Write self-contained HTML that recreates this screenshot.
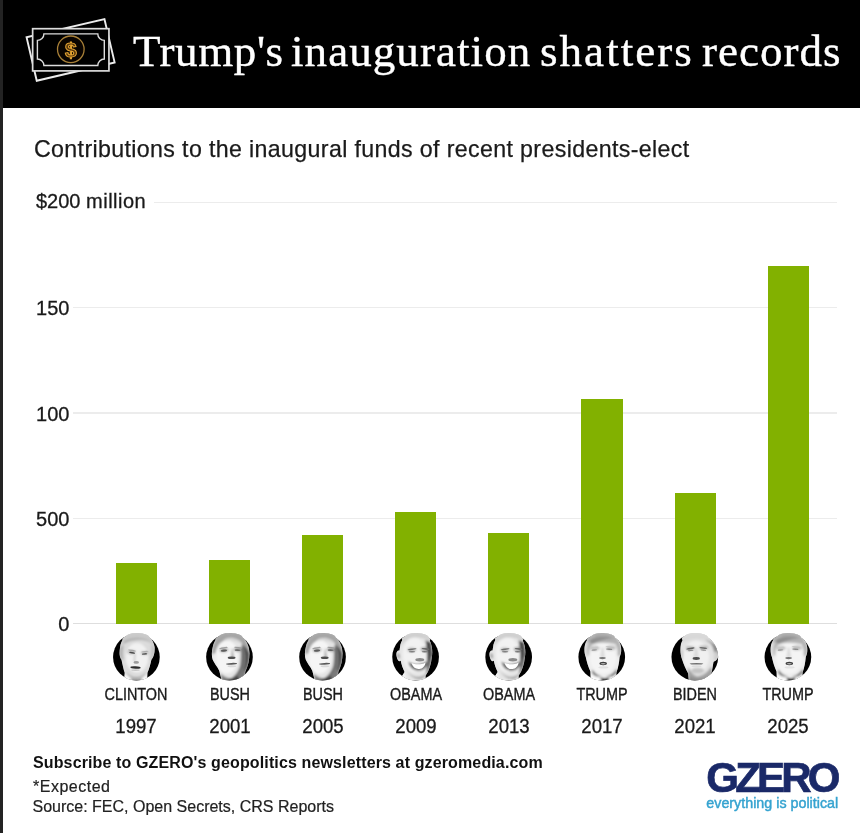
<!DOCTYPE html>
<html lang="en">
<head>
<meta charset="utf-8">
<title>Trump's inauguration shatters records</title>
<style>
html,body{margin:0;padding:0;}
body{width:860px;height:833px;position:relative;overflow:hidden;background:#fff;font-family:"Liberation Sans",sans-serif;color:#1a1a1a;}
.abs{position:absolute;white-space:nowrap;}
#strip{left:0;top:0;width:3px;height:833px;background:#232323;}
#header{left:3px;top:0;width:857px;height:108px;background:#000;}
#title{left:133px;top:23px;font-family:"Liberation Serif",serif;font-size:45px;line-height:56px;color:#fff;-webkit-text-stroke:0.4px #fff;}
#title span{position:absolute;top:0;}
#subtitle{left:34px;top:135.2px;font-size:23.2px;line-height:28px;color:#1a1a1a;letter-spacing:0.36px;-webkit-text-stroke:0.25px #1a1a1a;}
.grid{left:73px;width:764px;height:1.5px;background:#ececec;}
.ylab{-webkit-text-stroke:0.3px #1a1a1a;left:36px;min-width:33.4px;text-align:right;font-size:20px;line-height:24px;color:#1a1a1a;background:#fff;padding-right:4px;}
.bar{background:#82b100;width:41.2px;}
.name{font-size:16.3px;line-height:20px;text-align:center;width:100px;color:#1a1a1a;transform:scaleX(0.885);-webkit-text-stroke:0.35px #1a1a1a;transform-origin:50% 50%;}
.year{-webkit-text-stroke:0.3px #1a1a1a;font-size:20px;line-height:24px;text-align:center;width:100px;color:#1a1a1a;transform:scaleX(0.93);transform-origin:50% 50%;}
.face{width:48px;height:48px;}
#sub2{left:33px;top:753.2px;font-size:16px;line-height:20px;font-weight:bold;color:#111;letter-spacing:0.13px;}
#exp{-webkit-text-stroke:0.2px #222;left:33px;top:777.2px;font-size:16px;line-height:20px;color:#222;letter-spacing:0.5px;}
#src{-webkit-text-stroke:0.2px #222;left:32.5px;top:797px;font-size:16px;line-height:20px;color:#222;}
#logo{left:706.3px;top:758px;font-size:42px;line-height:40px;font-weight:bold;color:#1a2968;letter-spacing:-3.8px;-webkit-text-stroke:0.7px #1a2968;}
#tag{left:706.3px;top:795.2px;font-size:14.3px;line-height:16px;color:#35a3d0;-webkit-text-stroke:0.45px #35a3d0;}
</style>
</head>
<body>
<div class="abs" id="strip"></div>
<div class="abs" id="header"></div>
<div class="abs" id="title"><span style="left:0;letter-spacing:0.6px">Trump's</span> <span style="left:158px;letter-spacing:1.07px">inauguration</span> <span style="left:407px;letter-spacing:2.05px">shatters</span> <span style="left:569px;letter-spacing:1px">records</span></div>
<svg class="abs" id="money" width="140" height="107" viewBox="0 0 140 107" style="left:0;top:0;">
<rect x="-40" y="-22.3" width="80" height="44.6" transform="translate(70.6 49.9) rotate(-13.2)" fill="#000" stroke="#ececec" stroke-width="1.9"/>
<rect x="32.65" y="28.7" width="76.3" height="42.2" fill="#000" stroke="#dcdcdc" stroke-width="1.7"/>
<path d="M43.9 33.9H97.8A6.5 6.5 0 0 0 104.3 40.4V59.0A6.5 6.5 0 0 0 97.8 65.5H43.9A6.5 6.5 0 0 0 37.4 59.0V40.4A6.5 6.5 0 0 0 43.9 33.9Z" fill="none" stroke="#dcdcdc" stroke-width="1.4"/>
<circle cx="70.8" cy="49.3" r="13.3" fill="#0a0400" stroke="#a98138" stroke-width="1.3"/>
<text x="70.8" y="56.6" text-anchor="middle" font-family="Liberation Sans, sans-serif" font-weight="bold" font-size="21" fill="#5a380c" stroke="#e6a634" stroke-width="1">$</text>
</svg>
<div class="abs" id="subtitle">Contributions to the inaugural funds of recent presidents-elect</div>

<div class="abs grid" style="top:201.5px;"></div>
<div class="abs grid" style="top:306.8px;"></div>
<div class="abs grid" style="top:412.2px;"></div>
<div class="abs grid" style="top:517.5px;"></div>
<div class="abs grid" style="top:622.8px;background:#dedede;"></div>

<div class="abs ylab" style="top:189px;padding-right:8px;">$200 <span style="letter-spacing:0.5px">million</span></div>
<div class="abs ylab" style="top:295.8px;">150</div>
<div class="abs ylab" style="top:401.6px;">100</div>
<div class="abs ylab" style="top:506.8px;">500</div>
<div class="abs ylab" style="top:612.4px;">0</div>

<div class="abs bar" style="left:115.9px;top:563.0px;height:60.6px;"></div>
<div class="abs bar" style="left:209.0px;top:560.4px;height:63.2px;"></div>
<div class="abs bar" style="left:302.1px;top:534.8px;height:88.8px;"></div>
<div class="abs bar" style="left:395.2px;top:511.8px;height:111.8px;"></div>
<div class="abs bar" style="left:488.3px;top:532.7px;height:90.9px;"></div>
<div class="abs bar" style="left:581.4px;top:398.9px;height:224.7px;"></div>
<div class="abs bar" style="left:674.5px;top:493.0px;height:130.6px;"></div>
<div class="abs bar" style="left:767.6px;top:265.5px;height:358.1px;"></div>

<div class="abs name" style="left:86.4px;top:684px;">CLINTON</div>
<div class="abs name" style="left:179.5px;top:684px;">BUSH</div>
<div class="abs name" style="left:272.6px;top:684px;">BUSH</div>
<div class="abs name" style="left:365.7px;top:684px;">OBAMA</div>
<div class="abs name" style="left:458.8px;top:684px;">OBAMA</div>
<div class="abs name" style="left:551.9px;top:684px;">TRUMP</div>
<div class="abs name" style="left:645.0px;top:684px;">BIDEN</div>
<div class="abs name" style="left:738.1px;top:684px;">TRUMP</div>

<div class="abs year" style="left:86.4px;top:713.9px;">1997</div>
<div class="abs year" style="left:179.5px;top:713.9px;">2001</div>
<div class="abs year" style="left:272.6px;top:713.9px;">2005</div>
<div class="abs year" style="left:365.7px;top:713.9px;">2009</div>
<div class="abs year" style="left:458.8px;top:713.9px;">2013</div>
<div class="abs year" style="left:551.9px;top:713.9px;">2017</div>
<div class="abs year" style="left:645.0px;top:713.9px;">2021</div>
<div class="abs year" style="left:738.1px;top:713.9px;">2025</div>

<!--FACES-->
<svg width="0" height="0" style="position:absolute"><defs>
<filter id="fb" x="-10%" y="-10%" width="120%" height="120%"><feGaussianBlur stdDeviation="14"/></filter>
<clipPath id="fc"><circle cx="422" cy="432" r="324"/><ellipse cx="435" cy="165" rx="170" ry="68"/></clipPath>
<clipPath id="hc-clinton"><ellipse cx="432" cy="150" rx="215" ry="110"/><path d="M430 90C300 90 210 170 195 300C185 360 180 420 215 470C230 540 245 610 260 650L250 780H570L575 650C600 600 620 520 630 470C670 420 680 350 675 290C650 160 560 90 430 90Z"/></clipPath><g id="f-clinton"><circle cx="422" cy="432" r="324" fill="#000"/><g clip-path="url(#fc)"><ellipse cx="432" cy="150" rx="215" ry="110" fill="#cdcdcd"/><path d="M430 90C300 90 210 170 195 300C185 360 180 420 215 470C230 540 245 610 260 650L250 780H570L575 650C600 600 620 520 630 470C670 420 680 350 675 290C650 160 560 90 430 90Z" fill="#dcdcdc"/><g clip-path="url(#hc-clinton)"><g filter="url(#fb)"><ellipse cx="432" cy="150" rx="215" ry="110" fill="#cdcdcd"/><path d="M430 90C300 90 210 170 195 300C185 360 180 420 215 470C230 540 245 610 260 650L250 780H570L575 650C600 600 620 520 630 470C670 420 680 350 675 290C650 160 560 90 430 90Z" fill="#dcdcdc"/><path d="M430 90C300 90 210 170 195 300C230 230 330 190 440 195C540 195 630 230 675 290C650 160 560 90 430 90Z" fill="#c9c9c9"/><ellipse cx="430" cy="440" rx="155" ry="205" fill="#f1f1f1"/><path d="M300 340C330 320 390 330 415 355C395 400 330 405 300 380Z" fill="#bdbdbd"/><path d="M480 360C510 340 570 345 600 365C590 410 530 415 490 395Z" fill="#c4c4c4"/><path d="M250 210C330 150 520 140 620 220C520 180 350 185 250 250Z" fill="#b2b2b2"/><path d="M195 300C185 360 180 420 215 470L245 470C230 400 235 330 250 260Z" fill="#b4b4b4"/><path d="M675 290C680 350 670 420 630 470L610 470C630 400 630 330 620 260Z" fill="#c4c4c4"/><path d="M260 650L250 780H350L330 720C300 700 275 680 260 650Z" fill="#fafafa"/><path d="M575 650L570 780H480L510 720C540 700 560 680 575 650Z" fill="#fafafa"/><path d="M350 735C400 760 450 760 500 735L470 790H380Z" fill="#1a1a1a"/><path d="M275 640C310 700 370 735 425 740C480 735 530 700 565 640C520 690 470 712 425 712C370 712 320 690 275 640Z" fill="#9a9a9a"/><path d="M395 390C385 440 380 480 392 505L410 500C402 470 405 430 415 390Z" fill="#c4c4c4"/></g></g><ellipse cx="362" cy="372" rx="42" ry="11" fill="#4a4a4a" transform="rotate(8 362 372)"/><ellipse cx="535" cy="388" rx="38" ry="11" fill="#5a5a5a" transform="rotate(-4 535 388)"/><ellipse cx="360" cy="340" rx="55" ry="9" fill="#a8a8a8" transform="rotate(10 360 340)"/><ellipse cx="540" cy="355" rx="50" ry="9" fill="#b0b0b0" transform="rotate(-6 540 355)"/><ellipse cx="420" cy="505" rx="38" ry="20" fill="#9c9c9c"/><ellipse cx="410" cy="575" rx="72" ry="17" fill="#2e2e2e" transform="rotate(3 410 575)"/><ellipse cx="410" cy="612" rx="60" ry="12" fill="#c8c8c8"/></g></g>
<clipPath id="hc-bush"><ellipse cx="440" cy="160" rx="220" ry="110"/><path d="M440 100C320 100 215 160 190 290C175 350 170 420 190 470C210 520 250 560 280 620L320 780H640L640 640C680 560 700 470 700 380C700 230 600 100 440 100Z"/></clipPath><g id="f-bush"><circle cx="422" cy="432" r="324" fill="#000"/><g clip-path="url(#fc)"><ellipse cx="440" cy="160" rx="220" ry="110" fill="#a8a8a8"/><path d="M440 100C320 100 215 160 190 290C175 350 170 420 190 470C210 520 250 560 280 620L320 780H640L640 640C680 560 700 470 700 380C700 230 600 100 440 100Z" fill="#e4e4e4"/><g clip-path="url(#hc-bush)"><g filter="url(#fb)"><ellipse cx="440" cy="160" rx="220" ry="110" fill="#a8a8a8"/><path d="M440 100C320 100 215 160 190 290C175 350 170 420 190 470C210 520 250 560 280 620L320 780H640L640 640C680 560 700 470 700 380C700 230 600 100 440 100Z" fill="#e4e4e4"/><path d="M440 100C320 100 215 160 190 290C180 340 176 380 182 420L235 400C235 330 270 250 330 215C420 175 520 190 600 250C650 290 680 340 700 380C700 230 600 100 440 100Z" fill="#a4a4a4"/><path d="M330 215C420 175 520 190 600 250C560 160 380 130 330 215Z" fill="#d6d6d6"/><ellipse cx="385" cy="430" rx="160" ry="230" fill="#f5f5f5"/><path d="M285 320C320 295 390 300 415 325C395 370 320 375 285 355Z" fill="#b4b4b4"/><path d="M480 315C515 292 585 295 605 315C595 360 535 365 490 345Z" fill="#9c9c9c"/><path d="M600 250C570 330 590 420 575 520C565 600 520 680 440 730L640 780V640C680 560 700 470 700 380C680 340 650 290 600 250Z" fill="#6e6e6e"/><path d="M630 280C705 330 705 530 630 660C665 520 665 400 630 280Z" fill="#3e3e3e"/><path d="M300 660C350 715 420 735 470 725C540 700 575 640 590 580L640 640V780H320Z" fill="#7a7a7a"/><path d="M400 745C440 720 500 715 540 690L560 790H400Z" fill="#3c3c3c"/><ellipse cx="212" cy="440" rx="32" ry="60" fill="#ececec"/><path d="M455 300C475 350 480 400 490 440L440 445C450 400 448 350 455 300Z" fill="#b0b0b0"/></g></g><ellipse cx="345" cy="342" rx="45" ry="15" fill="#5c5c5c" transform="rotate(-6 345 342)"/><ellipse cx="535" cy="335" rx="42" ry="13" fill="#6a6a6a" transform="rotate(4 535 335)"/><ellipse cx="340" cy="305" rx="60" ry="10" fill="#a2a2a2" transform="rotate(-10 340 305)"/><ellipse cx="540" cy="300" rx="55" ry="10" fill="#9a9a9a" transform="rotate(8 540 300)"/><ellipse cx="452" cy="442" rx="55" ry="17" fill="#4e4e4e"/><ellipse cx="450" cy="525" rx="78" ry="13" fill="#5a5a5a" transform="rotate(-2 450 525)"/><ellipse cx="455" cy="560" rx="60" ry="14" fill="#d8d8d8"/></g></g>
<clipPath id="hc-obama"><ellipse cx="430" cy="160" rx="200" ry="115"/><path d="M430 95C310 95 215 170 205 300C200 320 200 330 200 340C160 330 145 380 160 430C170 480 195 500 215 480C225 540 245 590 270 640L230 700L300 780H560L560 690C610 620 640 520 645 440C660 380 655 300 630 230C600 150 530 95 430 95Z"/></clipPath><g id="f-obama"><circle cx="422" cy="432" r="324" fill="#000"/><g clip-path="url(#fc)"><ellipse cx="430" cy="160" rx="200" ry="115" fill="#d2d2d2"/><path d="M430 95C310 95 215 170 205 300C200 320 200 330 200 340C160 330 145 380 160 430C170 480 195 500 215 480C225 540 245 590 270 640L230 700L300 780H560L560 690C610 620 640 520 645 440C660 380 655 300 630 230C600 150 530 95 430 95Z" fill="#e6e6e6"/><g clip-path="url(#hc-obama)"><g filter="url(#fb)"><ellipse cx="430" cy="160" rx="200" ry="115" fill="#d2d2d2"/><path d="M430 95C310 95 215 170 205 300C200 320 200 330 200 340C160 330 145 380 160 430C170 480 195 500 215 480C225 540 245 590 270 640L230 700L300 780H560L560 690C610 620 640 520 645 440C660 380 655 300 630 230C600 150 530 95 430 95Z" fill="#e6e6e6"/><path d="M430 95C310 95 215 170 205 300C260 200 340 160 440 160C520 160 590 190 630 230C600 150 530 95 430 95Z" fill="#cfcfcf"/><ellipse cx="405" cy="400" rx="160" ry="240" fill="#f2f2f2"/><path d="M310 310C340 290 410 295 440 320C420 370 340 375 310 350Z" fill="#c0c0c0"/><path d="M490 305C530 285 600 290 620 310C610 360 550 370 500 345Z" fill="#a8a8a8"/><path d="M630 230C655 300 660 380 645 440C640 520 610 620 560 690C590 560 590 380 560 200Z" fill="#6a6a6a"/><path d="M560 200C590 300 590 420 580 480L610 480C640 400 640 300 630 230Z" fill="#4a4a4a"/><ellipse cx="186" cy="415" rx="14" ry="40" fill="#8a8a8a" transform="rotate(-8 186 415)"/><ellipse cx="670" cy="400" rx="18" ry="50" fill="#7a7a7a"/><path d="M330 500C380 540 540 540 590 480C600 560 540 620 460 622C390 622 330 570 320 490Z" fill="#6f6f6f"/><path d="M300 620C350 700 420 740 480 742C530 735 560 700 580 650C540 690 500 705 460 705C400 705 340 670 300 620Z" fill="#aaaaaa"/><path d="M230 640L270 640L300 780H215Z" fill="#f4f4f4"/></g></g><ellipse cx="372" cy="322" rx="62" ry="11" fill="#6e6e6e" transform="rotate(-8 372 322)"/><ellipse cx="560" cy="318" rx="55" ry="11" fill="#6a6a6a" transform="rotate(8 560 318)"/><ellipse cx="372" cy="358" rx="45" ry="11" fill="#7c7c7c"/><ellipse cx="548" cy="358" rx="42" ry="11" fill="#777"/><ellipse cx="480" cy="468" rx="62" ry="24" fill="#8a8a8a"/><path d="M365 515C420 540 500 540 560 505C550 575 500 598 460 598C415 598 380 570 365 515Z" fill="#ffffff"/></g></g>
<clipPath id="hc-trump"><ellipse cx="432" cy="150" rx="225" ry="110"/><path d="M430 90C330 90 240 140 200 230C175 290 175 370 200 430C215 500 235 570 265 630L270 780H620L625 650C650 580 665 500 670 430C700 370 700 290 670 230C630 140 540 90 430 90Z"/></clipPath><g id="f-trump"><circle cx="422" cy="432" r="324" fill="#000"/><g clip-path="url(#fc)"><ellipse cx="432" cy="150" rx="225" ry="110" fill="#a6a6a6"/><path d="M430 90C330 90 240 140 200 230C175 290 175 370 200 430C215 500 235 570 265 630L270 780H620L625 650C650 580 665 500 670 430C700 370 700 290 670 230C630 140 540 90 430 90Z" fill="#ededed"/><g clip-path="url(#hc-trump)"><g filter="url(#fb)"><ellipse cx="432" cy="150" rx="225" ry="110" fill="#a6a6a6"/><path d="M430 90C330 90 240 140 200 230C175 290 175 370 200 430C215 500 235 570 265 630L270 780H620L625 650C650 580 665 500 670 430C700 370 700 290 670 230C630 140 540 90 430 90Z" fill="#ededed"/><path d="M430 90C330 90 240 140 200 230C175 290 175 370 200 430L250 400C240 340 260 280 300 250C380 230 500 225 610 250C640 290 650 350 640 400L670 430C700 370 700 290 670 230C630 140 540 90 430 90Z" fill="#b2b2b2"/><path d="M250 200C330 140 470 130 590 170C500 175 400 190 300 250C280 240 260 225 250 200Z" fill="#8e8e8e"/><path d="M330 120C420 100 540 120 620 190C540 150 430 140 330 160Z" fill="#a8a8a8"/><ellipse cx="440" cy="450" rx="180" ry="215" fill="#f4f4f4"/><path d="M270 290C300 270 370 275 400 300C380 350 300 360 270 330Z" fill="#c4c4c4"/><path d="M480 290C520 265 590 270 620 290C615 340 540 350 490 330Z" fill="#c0c0c0"/><path d="M200 230C175 290 175 370 200 430L235 410C215 350 220 280 245 230Z" fill="#dadada"/><path d="M420 300C415 350 405 400 400 440L470 440C462 400 452 350 450 300Z" fill="#dcdcdc"/><path d="M290 600C330 670 390 700 450 702C520 700 580 670 630 590L625 700H290Z" fill="#6f6f6f"/><path d="M265 640L270 780H420L400 730C350 710 300 680 265 640Z" fill="#fbfbfb"/><path d="M625 650L620 780H520L530 730C570 710 600 685 625 650Z" fill="#fbfbfb"/><path d="M405 715C440 730 480 730 525 715L510 790H420Z" fill="#161616"/></g></g><ellipse cx="320" cy="332" rx="40" ry="10" fill="#9a9a9a" transform="rotate(-5 320 332)"/><ellipse cx="525" cy="322" rx="45" ry="10" fill="#8a8a8a" transform="rotate(4 525 322)"/><ellipse cx="320" cy="300" rx="55" ry="9" fill="#c8c8c8" transform="rotate(-8 320 300)"/><ellipse cx="530" cy="292" rx="55" ry="9" fill="#c0c0c0" transform="rotate(6 530 292)"/><ellipse cx="432" cy="445" rx="45" ry="15" fill="#767676"/><ellipse cx="442" cy="520" rx="52" ry="24" fill="#3e3e3e"/><ellipse cx="442" cy="524" rx="34" ry="9" fill="#b0b0b0"/><ellipse cx="445" cy="575" rx="70" ry="16" fill="#e2e2e2"/></g></g>
<clipPath id="hc-biden"><ellipse cx="455" cy="160" rx="215" ry="110"/><path d="M450 100C350 100 260 150 230 250C215 320 220 400 245 460C265 530 300 600 330 660L340 780H650L652 650C668 600 672 545 682 495C722 485 750 440 756 385C760 345 756 312 745 290C715 170 600 100 450 100Z"/></clipPath><g id="f-biden"><circle cx="422" cy="432" r="324" fill="#000"/><g clip-path="url(#fc)"><ellipse cx="455" cy="160" rx="215" ry="110" fill="#dadada"/><path d="M450 100C350 100 260 150 230 250C215 320 220 400 245 460C265 530 300 600 330 660L340 780H650L652 650C668 600 672 545 682 495C722 485 750 440 756 385C760 345 756 312 745 290C715 170 600 100 450 100Z" fill="#e2e2e2"/><g clip-path="url(#hc-biden)"><g filter="url(#fb)"><ellipse cx="455" cy="160" rx="215" ry="110" fill="#dadada"/><path d="M450 100C350 100 260 150 230 250C215 320 220 400 245 460C265 530 300 600 330 660L340 780H650L652 650C668 600 672 545 682 495C722 485 750 440 756 385C760 345 756 312 745 290C715 170 600 100 450 100Z" fill="#e2e2e2"/><path d="M450 100C350 100 260 150 230 250C280 200 360 180 450 180C560 180 660 210 745 290C715 170 600 100 450 100Z" fill="#d8d8d8"/><path d="M560 190C640 210 700 250 745 290C760 350 755 420 730 470L690 470C700 400 690 300 640 240Z" fill="#8a8a8a"/><ellipse cx="440" cy="430" rx="180" ry="225" fill="#f0f0f0"/><path d="M300 290C330 270 400 280 425 305C400 350 330 355 300 335Z" fill="#b8b8b8"/><path d="M480 285C520 262 590 270 610 290C600 335 540 345 490 325Z" fill="#bcbcbc"/><ellipse cx="715" cy="420" rx="28" ry="70" fill="#cfcfcf"/><ellipse cx="245" cy="400" rx="16" ry="70" fill="#c6c6c6"/><path d="M425 300C420 350 410 400 400 440L480 440C470 400 460 350 455 300Z" fill="#dadada"/><path d="M330 560C360 640 400 690 460 700C530 695 600 650 650 560L665 640V780H340L330 660Z" fill="#a2a2a2"/><ellipse cx="460" cy="620" rx="90" ry="40" fill="#c4c4c4"/><path d="M345 700C420 745 560 745 660 690L660 790H340Z" fill="#8a8a8a"/></g></g><ellipse cx="362" cy="312" rx="58" ry="11" fill="#5e5e5e" transform="rotate(-10 362 312)"/><ellipse cx="540" cy="306" rx="55" ry="11" fill="#6c6c6c" transform="rotate(8 540 306)"/><ellipse cx="365" cy="340" rx="40" ry="8" fill="#8a8a8a" transform="rotate(-6 365 340)"/><ellipse cx="540" cy="335" rx="40" ry="8" fill="#8e8e8e" transform="rotate(6 540 335)"/><ellipse cx="442" cy="452" rx="50" ry="20" fill="#4c4c4c"/><ellipse cx="445" cy="525" rx="95" ry="11" fill="#6e6e6e"/><ellipse cx="445" cy="560" rx="70" ry="16" fill="#dcdcdc"/></g></g>
</defs></svg>
<svg class="abs" id="faces" width="860" height="70" viewBox="0 0 860 70" style="left:0;top:622px;">
<use href="#f-clinton" transform="translate(106.00 4) scale(0.07203)"/>
<use href="#f-bush" transform="translate(199.07 4) scale(0.07203)"/>
<use href="#f-bush" transform="translate(292.14 4) scale(0.07203)"/>
<use href="#f-obama" transform="translate(385.21 4) scale(0.07203)"/>
<use href="#f-obama" transform="translate(478.28 4) scale(0.07203)"/>
<use href="#f-trump" transform="translate(571.35 4) scale(0.07203)"/>
<use href="#f-biden" transform="translate(664.42 4) scale(0.07203)"/>
<use href="#f-trump" transform="translate(757.49 4) scale(0.07203)"/>
</svg>
<!--/FACES-->
<div class="abs" id="sub2">Subscribe to GZERO's geopolitics newsletters at gzeromedia.com</div>
<div class="abs" id="exp">*Expected</div>
<div class="abs" id="src">Source: FEC, Open Secrets, CRS Reports</div>
<div class="abs" id="logo">GZERO</div>
<div class="abs" id="tag">everything is political</div>
</body>
</html>
